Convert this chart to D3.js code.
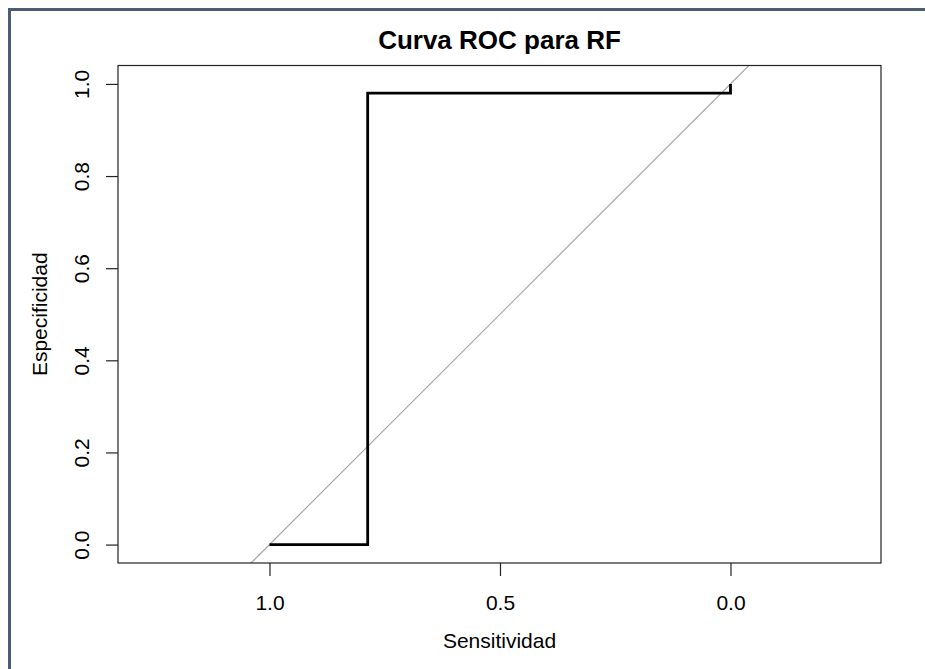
<html>
<head>
<meta charset="utf-8">
<title>Curva ROC para RF</title>
<style>
  body { margin: 0; background: #fff; }
  text { font-family: "Liberation Sans", Arial, sans-serif; fill: #000; }
</style>
</head>
<body>
<script src="https://cdn.jsdelivr.net/npm/d3@7"></script>
<script>
// datos de la curva ROC
var sens = [1.0, 0.787, 0.787, 0.0, 0.0];
var espec = [0.0, 0.0, 0.98, 0.98, 1.0];
var xTicks = [1.0, 0.5, 0.0];
var yTicks = [0.0, 0.2, 0.4, 0.6, 0.8, 1.0];

var width = 925, height = 669;
var box = {left: 118, right: 881, top: 65.5, bottom: 563};

var svg = d3.select("body").append("svg")
    .attr("width", width)
    .attr("height", height);

// marco exterior (solo visible arriba e izquierda)
svg.append("rect")
    .attr("x", 9.5).attr("y", 9.5)
    .attr("width", 1000).attr("height", 1000)
    .attr("fill", "none")
    .attr("stroke", "#4d5c70")
    .attr("stroke-width", 3);

// escalas: eje x invertido, aspecto 1
var x = d3.scaleLinear().domain([1.3286, -0.3265]).range([box.left, box.right]);
var y = d3.scaleLinear().domain([-0.04, 1.04]).range([box.bottom, box.top]);

svg.append("defs").append("clipPath").attr("id", "clip")
  .append("rect")
    .attr("x", box.left).attr("y", box.top)
    .attr("width", box.right - box.left).attr("height", box.bottom - box.top);

// diagonal de referencia
svg.append("line")
    .attr("clip-path", "url(#clip)")
    .attr("x1", x(1.2)).attr("y1", y(-0.2))
    .attr("x2", x(-0.2)).attr("y2", y(1.2))
    .attr("stroke", "#a6a6a6")
    .attr("stroke-width", 1.2);

// curva
var pts = sens.map(function(d, i) { return [d, espec[i]]; });
svg.append("path")
    .datum(pts)
    .attr("fill", "none")
    .attr("stroke", "#000")
    .attr("stroke-width", 2.8)
    .attr("d", d3.line().x(function(d) { return x(d[0]); }).y(function(d) { return y(d[1]); }));

// caja
svg.append("rect")
    .attr("x", box.left).attr("y", box.top)
    .attr("width", box.right - box.left).attr("height", box.bottom - box.top)
    .attr("fill", "none")
    .attr("stroke", "#222")
    .attr("stroke-width", 1.2);

// ejes
var xAxis = svg.append("g")
    .attr("transform", "translate(0," + box.bottom + ")")
    .call(d3.axisBottom(x).tickValues(xTicks).tickFormat(d3.format(".1f")).tickSize(13).tickPadding(19));
xAxis.select(".domain").remove();
xAxis.selectAll("line").attr("stroke", "#222").attr("stroke-width", 1.2);
xAxis.selectAll("text").attr("font-size", 21).attr("font-family", "Liberation Sans, Arial, sans-serif").attr("fill", "#000");

var yAxis = svg.append("g")
    .attr("transform", "translate(" + box.left + ",0)")
    .call(d3.axisLeft(y).tickValues(yTicks).tickFormat(d3.format(".1f")).tickSize(12).tickPadding(0));
yAxis.select(".domain").remove();
yAxis.selectAll("line").attr("stroke", "#222").attr("stroke-width", 1.2);
yAxis.selectAll("text")
    .attr("font-size", 21)
    .attr("font-family", "Liberation Sans, Arial, sans-serif")
    .attr("fill", "#000")
    .attr("text-anchor", "middle")
    .attr("x", null).attr("dy", null)
    .attr("transform", "translate(-29,0) rotate(-90)");

// titulos
svg.append("text")
    .attr("x", (box.left + box.right) / 2).attr("y", 49)
    .attr("text-anchor", "middle")
    .attr("font-size", 26)
    .attr("font-weight", "bold")
    .text("Curva ROC para RF");

svg.append("text")
    .attr("x", (box.left + box.right) / 2).attr("y", 648)
    .attr("text-anchor", "middle")
    .attr("font-size", 21)
    .text("Sensitividad");

svg.append("text")
    .attr("transform", "translate(47," + ((box.top + box.bottom) / 2) + ") rotate(-90)")
    .attr("text-anchor", "middle")
    .attr("font-size", 21)
    .text("Especificidad");
</script>
</body>
</html>
